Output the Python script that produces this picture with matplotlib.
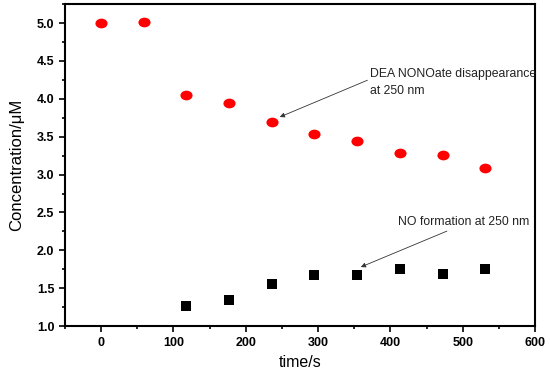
import matplotlib.pyplot as plt
from matplotlib.markers import MarkerStyle
from matplotlib.transforms import Affine2D
from matplotlib.ticker import MultipleLocator

plt.rcParams['font.family'] = ['Liberation Sans', 'DejaVu Sans']

# time points (s)
time_dea = [0, 59, 118, 177, 236, 295, 354, 413, 472, 531]
conc_dea = [5.00, 5.02, 4.05, 3.94, 3.70, 3.53, 3.44, 3.29, 3.26, 3.09]

time_no = [118, 177, 236, 295, 354, 413, 472, 531]
conc_no = [1.27, 1.34, 1.56, 1.68, 1.68, 1.75, 1.69, 1.76]

fig = plt.figure(figsize=(5.5, 3.74), dpi=100)
ax = fig.add_axes([0.118, 0.128, 0.855, 0.861])

# the original is a bit stretched sideways, so markers are wider than tall
wide_o = MarkerStyle('o', transform=Affine2D().scale(1.25, 1.0))
wide_s = MarkerStyle('s', transform=Affine2D().scale(1.15, 1.0))
ax.plot(time_dea, conc_dea, linestyle='none', marker=wide_o, color='#ff0000', ms=7, mew=0)
ax.plot(time_no, conc_no, linestyle='none', marker=wide_s, color='black', ms=6.5, mew=0)

ax.set_xlim(-50, 600)
ax.set_ylim(1.0, 5.25)
ax.xaxis.set_major_locator(MultipleLocator(100))
ax.xaxis.set_minor_locator(MultipleLocator(50))
ax.yaxis.set_major_locator(MultipleLocator(0.5))
ax.yaxis.set_minor_locator(MultipleLocator(0.25))
ax.tick_params(which='both', direction='out', width=1.2, labelsize=9)
ax.tick_params(which='major', length=4)
ax.tick_params(which='minor', length=2.5)
for lab in ax.get_xticklabels() + ax.get_yticklabels():
    lab.set_fontweight('bold')
for sp in ax.spines.values():
    sp.set_linewidth(1.5)

ax.set_xlabel('time/s', fontsize=11.5, labelpad=5)
ax.set_ylabel('Concentration/\u03bcM', fontsize=12, labelpad=9)

ax.annotate('DEA NONOate disappearance\nat 250 nm', xy=(247, 3.76), xytext=(372, 4.215),
            fontsize=8.8, va='center', ha='left', linespacing=1.55, color='#222222',
            arrowprops=dict(arrowstyle='-|>', color='#333333', lw=0.6,
                            shrinkA=0, shrinkB=0, mutation_scale=7,
                            relpos=(0, 0.62)))
ax.annotate('NO formation at 250 nm', xy=(359, 1.78), xytext=(411, 2.37),
            fontsize=8.8, va='center', ha='left', color='#222222',
            arrowprops=dict(arrowstyle='-|>', color='#333333', lw=0.6,
                            shrinkA=0, shrinkB=0, mutation_scale=7,
                            relpos=(0.42, 0)))

fig.savefig('out.png', dpi=100)
